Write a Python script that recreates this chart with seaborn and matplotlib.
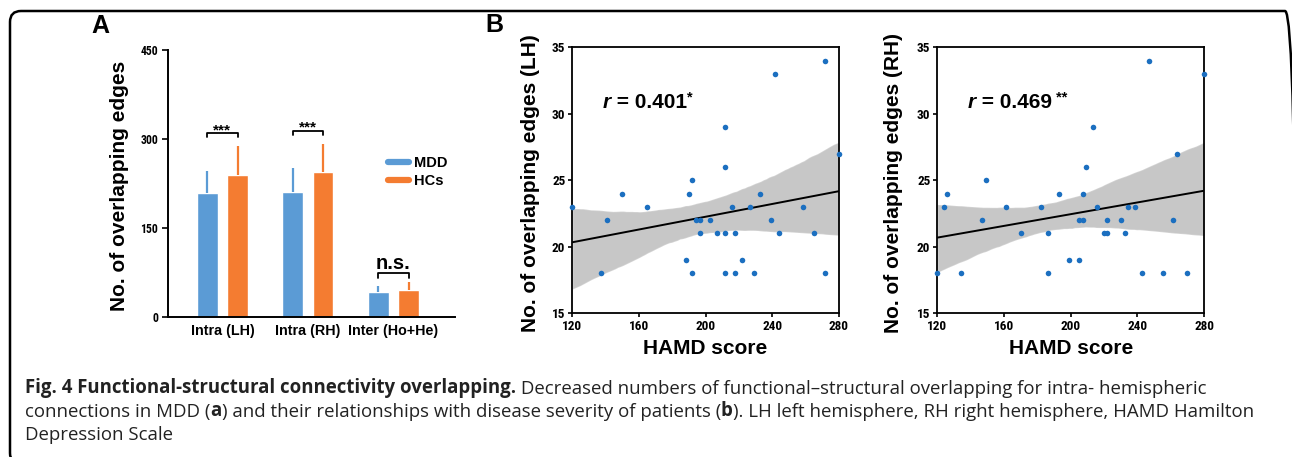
import numpy as np
import pandas as pd
import matplotlib
matplotlib.use("Agg")
import matplotlib.pyplot as plt
import seaborn as sns
from matplotlib.patches import FancyBboxPatch
from matplotlib.lines import Line2D
from matplotlib.transforms import IdentityTransform
from matplotlib import font_manager as fm

# ---------------- data ----------------
categories = ["Intra (LH)", "Intra (RH)", "Inter (Ho+He)"]
groups = ["MDD", "HCs"]
mdd_mean = [210, 211, 43]
mdd_sd = [36, 41, 9]
hc_mean = [240, 244, 46]
hc_sd = [48, 48, 13]
sig_labels = ["***", "***", "n.s."]

hamd_lh = [120, 137, 141, 150, 165, 188, 190, 192, 192, 194.5, 196.5, 196.5, 203, 207,
           211.5, 211.5, 211.5, 211.5, 216, 218, 218, 222, 226.5, 229, 233, 239.5, 241.5,
           244, 258.5, 265, 271.5, 271.5, 280]
edges_lh = [23, 18, 22, 24, 23, 19, 24, 25, 18, 22, 22, 21, 22, 21, 29, 26, 21, 18, 23,
            21, 18, 19, 23, 18, 24, 22, 33, 21, 23, 21, 34, 18, 27]
hamd_rh = [120, 124, 126, 134.5, 147, 149, 161.5, 170, 182.5, 186.5, 186.5, 193, 199, 205,
           205, 207.5, 207.5, 209.5, 213.5, 216, 220, 222, 222, 230.5, 232.5, 234.5, 238.5,
           243, 247, 255.5, 261.5, 264, 270, 280]
edges_rh = [18, 23, 24, 18, 22, 25, 23, 21, 23, 21, 18, 24, 19, 22, 19, 24, 22, 26, 29, 23,
            21, 22, 21, 22, 21, 23, 23, 18, 34, 18, 22, 27, 18, 33]
r_values = ["0.401", "0.469"]
r_stars = ["*", "**"]
hemis = ["LH", "RH"]
x_ticks = [120, 160, 200, 240, 280]
y_ticks = [15, 20, 25, 30, 35]
bar_ticks = [0, 150, 300, 450]

# ---------------- style ----------------
sns.set_theme(style="ticks")
plt.rcParams["font.family"] = ["Liberation Sans", "DejaVu Sans"]
plt.rcParams.update({"text.color": "black", "axes.labelcolor": "black",
                     "xtick.color": "black", "ytick.color": "black",
                     "axes.edgecolor": "black"})


def pick(names):
    for n in names:
        try:
            fm.findfont(n, fallback_to_default=False)
            return n
        except Exception:
            pass
    return "DejaVu Sans"


NARROW = pick(["Liberation Sans Narrow", "Roboto Condensed", "DejaVu Sans"])
CAPF = pick(["Open Sans", "Noto Sans", "DejaVu Sans"])

BLUE = "#5B9BD5"
ORANGE = "#F47C31"
DOT = "#1B6FC0"

W, H = 1292, 457
fig = plt.figure(figsize=(W / 100, H / 100), dpi=100)
fig.patch.set_facecolor("white")


def rect(l, t, r, b):
    return [l / W, 1 - b / H, (r - l) / W, (b - t) / H]


# ---------------- panel A ----------------
axA = fig.add_axes(rect(167.7, 50, 455, 317.3))
df = pd.DataFrame({
    "category": categories * 2,
    "group": ["MDD"] * 3 + ["HCs"] * 3,
    "value": mdd_mean + hc_mean,
})
sns.barplot(data=df, x="category", y="value", hue="group", order=categories,
            hue_order=groups, palette=[BLUE, ORANGE], saturation=1, width=0.71,
            gap=0.32, errorbar=None, legend=False, ax=axA)
for cont, sds, col in zip(axA.containers, [mdd_sd, hc_sd], [BLUE, ORANGE]):
    for bar, sd in zip(cont, sds):
        xc = bar.get_x() + bar.get_width() / 2
        top = bar.get_height()
        axA.vlines(xc, top, top + sd, color=col, lw=1.6, zorder=1)

bracket_off = [22, 22, 15]
for i, lab in enumerate(sig_labels):
    b1 = axA.containers[0][i]
    b2 = axA.containers[1][i]
    x1 = b1.get_x() + b1.get_width() / 2
    x2 = b2.get_x() + b2.get_width() / 2
    ytop = max(mdd_mean[i] + mdd_sd[i], hc_mean[i] + hc_sd[i]) + bracket_off[i]
    axA.plot([x1, x1, x2, x2], [ytop - 7, ytop, ytop, ytop - 7], color="black", lw=1.3)
    if lab == "n.s.":
        axA.text((x1 + x2) / 2, ytop + 8, lab, ha="center", va="baseline",
                 fontsize=14.5, weight="bold")
    else:
        axA.text((x1 + x2) / 2, ytop - 1.5, lab, ha="center", va="baseline",
                 fontsize=11, weight="bold")

axA.set_ylim(0, 450)
axA.set_xlim(-0.64, 2.72)
axA.set_yticks(bar_ticks)
axA.set_xlabel("")
axA.set_ylabel("No. of overlapping edges", fontsize=15, weight="bold")
axA.yaxis.set_label_coords(-0.135, 0.49)
sns.despine(ax=axA)
for s in ["left", "bottom"]:
    axA.spines[s].set_linewidth(1.4)
    axA.spines[s].set_color("black")
axA.tick_params(axis="y", length=4, width=1.2, pad=3, labelsize=8.5, colors="black")
axA.tick_params(axis="x", length=0, pad=5, labelsize=10.3, colors="black")
for lab in axA.get_yticklabels():
    lab.set_fontfamily(NARROW)
    lab.set_fontweight("bold")
for lab in axA.get_xticklabels():
    lab.set_fontweight("bold")

handles = [Line2D([], [], color=BLUE, lw=4.5), Line2D([], [], color=ORANGE, lw=4.5)]
axA.legend(handles, groups, loc="upper left", bbox_to_anchor=(0.767, 0.603),
           frameon=False, borderaxespad=0, borderpad=0, handlelength=1.45,
           handletextpad=0.3, labelspacing=0.25, prop=dict(weight="bold", size=10.5))

# ---------------- panel B ----------------
scatter_specs = [
    (hamd_lh, edges_lh, rect(572.3, 47.3, 838.7, 313.3), -0.121),
    (hamd_rh, edges_rh, rect(937.3, 47.3, 1204, 313.3), -0.129),
]
for k, (xs, ys, pos, ylab_x) in enumerate(scatter_specs):
    ax = fig.add_axes(pos)
    sns.regplot(x=np.array(xs, float), y=np.array(ys, float), ax=ax, ci=95, seed=0,
                color=DOT, scatter_kws=dict(s=16, linewidths=0, alpha=1, clip_on=False, zorder=3),
                line_kws=dict(color="black", lw=1.4))
    for coll in ax.collections:
        if isinstance(coll, matplotlib.collections.PolyCollection):
            coll.set_alpha(0.22)
    ax.set_xlim(120, 280)
    ax.set_ylim(15, 35)
    ax.set_xticks(x_ticks)
    ax.set_yticks(y_ticks)
    for s in ax.spines.values():
        s.set_linewidth(1.3)
        s.set_color("black")
    ax.tick_params(length=3, width=1.2, pad=2, labelsize=9.5, colors="black")
    for lab in ax.get_xticklabels() + ax.get_yticklabels():
        lab.set_fontfamily(NARROW)
        lab.set_fontweight("bold")
    ax.set_xlabel("HAMD score", fontsize=15, weight="bold")
    ax.xaxis.set_label_coords(0.5, -0.095)
    ax.set_ylabel(f"No. of overlapping edges ({hemis[k]})", fontsize=15, weight="bold")
    ax.yaxis.set_label_coords(ylab_x, 0.49)

    t1 = ax.text(138.2, 30.4, "r", fontsize=15, weight="bold", style="italic",
                 va="baseline", ha="left")
    t2 = ax.annotate(f" = {r_values[k]}", xy=(1, 0), xycoords=t1, va="bottom",
                     ha="left", fontsize=15, weight="bold")
    sp = "" if k == 0 else " "
    ax.annotate(sp + r_stars[k], xy=(1, 1), xycoords=t2, va="top", ha="left",
                fontsize=10.5, weight="bold", xytext=(0, 2), textcoords="offset points")

# ---------------- panel letters ----------------
fig.text(91 / W, 1 - 33 / H, "A", fontsize=18, weight="bold", va="baseline")
fig.text(485 / W, 1 - 32 / H, "B", fontsize=18, weight="bold", va="baseline")

# ---------------- caption ----------------
cap = fig.add_axes([0, 0, 1, 1])
cap.set_axis_off()
cap.set_xlim(0, W)
cap.set_ylim(H, 0)
lines = [
    [("Fig. 4 Functional-structural connectivity overlapping.", "bold"),
     (" Decreased numbers of functional\u2013structural overlapping for intra- hemispheric", "normal")],
    [("connections in MDD (", "normal"), ("a", "bold"),
     (") and their relationships with disease severity of patients (", "normal"), ("b", "bold"),
     ("). LH left hemisphere, RH right hemisphere, HAMD Hamilton", "normal")],
    [("Depression Scale", "normal")],
]
baselines = [393.5, 417, 440.5]
CAPSIZE = 13.4
for parts, yb in zip(lines, baselines):
    prev = None
    for txt, wt in parts:
        if prev is None:
            prev = cap.text(25, yb, txt, fontsize=CAPSIZE, weight=wt, family=CAPF,
                            va="baseline", ha="left", color="#222222")
        else:
            prev = cap.annotate(txt, xy=(1, 0), xycoords=prev, va="bottom", ha="left",
                                fontsize=CAPSIZE, weight=wt, family=CAPF, color="#222222")

# ---------------- border (open at bottom / right edge, as in the clipped original) ----------------
box = FancyBboxPatch((10, -7), 1286, 453, boxstyle="round,pad=0,rounding_size=11",
                     transform=IdentityTransform(), fill=False, lw=1.8, ec="black")
fig.add_artist(box)

fig.savefig("out.png", dpi=100, facecolor="white")
